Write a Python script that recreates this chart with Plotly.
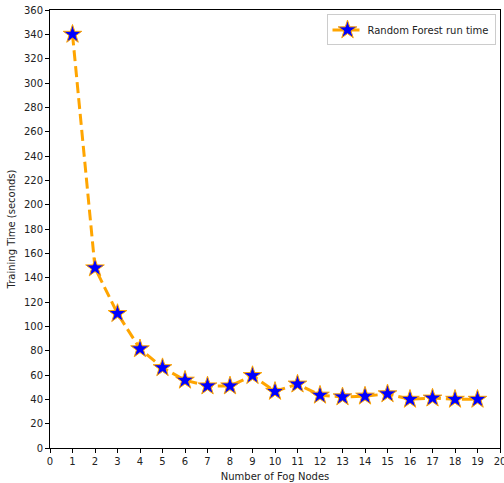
import plotly.graph_objects as go

nodes = list(range(1, 20))
run_time = [340, 148, 110.5, 81.5, 66, 55.7, 51, 51, 59.5, 46.5, 52.5, 43.4, 42, 42.6, 44.5, 40, 41, 40, 40]
series_name = "Random Forest run time"

fig = go.Figure()
fig.add_trace(go.Scatter(
    x=nodes, y=run_time, mode="lines+markers", name=series_name,
    line=dict(color="orange", width=3, dash="11px,5px"),
    marker=dict(symbol="star", size=14, color="blue", line=dict(color="orange", width=1)),
))

axis_common = dict(
    showline=True, linecolor="black", linewidth=1, mirror=True,
    ticks="outside", ticklen=4, tickcolor="black", tickwidth=1,
    showgrid=False, zeroline=False, ticklabeloverflow="allow", automargin=False,
    tickfont=dict(family="DejaVu Sans", size=10, color="#222"),
)
fig.update_xaxes(range=[0, 20], dtick=1, tick0=0,
                 title=dict(text="Number of Fog Nodes", font=dict(family="DejaVu Sans", size=10, color="#222"), standoff=6),
                 **axis_common)
fig.update_yaxes(range=[0, 360], dtick=20, tick0=0,
                 title=dict(text="Training Time (seconds)", font=dict(family="DejaVu Sans", size=10, color="#222"), standoff=6),
                 **axis_common)

fig.update_layout(
    width=504, height=483,
    margin=dict(l=50, r=4, t=10, b=35),
    plot_bgcolor="white", paper_bgcolor="white",
    showlegend=True,
    legend=dict(x=0.99, y=0.99, xanchor="right", yanchor="top",
                bgcolor="rgba(255,255,255,0.8)", bordercolor="#ccc", borderwidth=1,
                font=dict(family="DejaVu Sans", size=10, color="#222")),
)

fig.write_html("out.html")
